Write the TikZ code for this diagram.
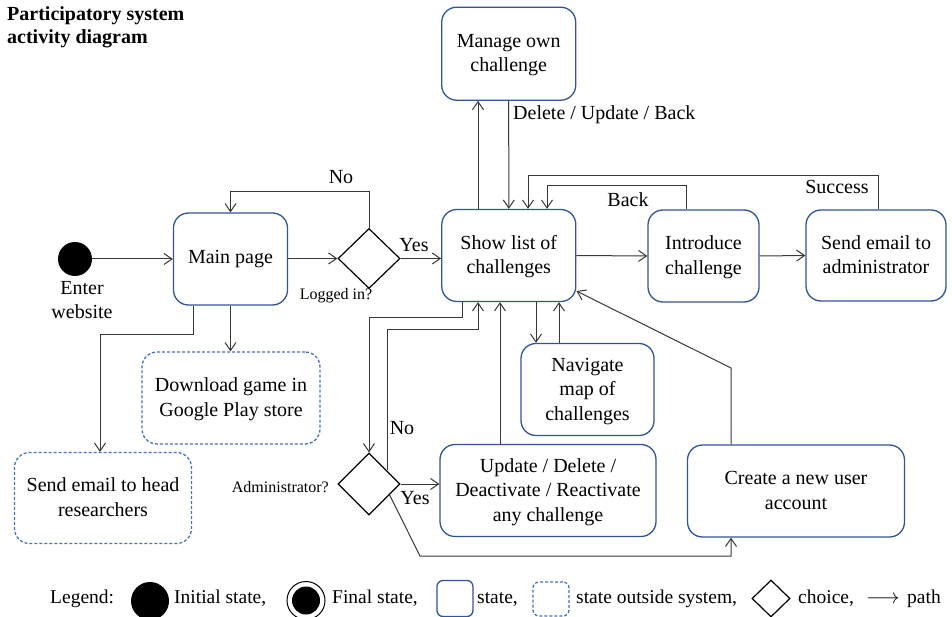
\documentclass[tikz,border=0pt]{standalone}
\usepackage{fontspec}
\setmainfont{Liberation Serif}
\usetikzlibrary{shapes.geometric,arrows.meta}
\definecolor{boxblue}{RGB}{47,85,151}
\definecolor{dashblue}{RGB}{68,114,196}
\definecolor{linegray}{RGB}{55,55,55}
\newcommand\mytopstrut{\rule{0pt}{18pt}}
\newcommand\mybotstrut{\rule[-6pt]{0pt}{6pt}}
\begin{document}
\begin{tikzpicture}[x=1pt,y=-1pt,
  every node/.style={inner sep=0pt},
  statebox/.style={draw=boxblue, line width=1.3pt, rounded corners=15pt, align=center, font=\fontsize{20}{24.5}\selectfont},
  outbox/.style={statebox, draw=dashblue, dash pattern=on 3pt off 2pt},
  choice/.style={diamond, draw=black, line width=1.2pt, aspect=1},
  lbl/.style={font=\fontsize{20}{24}\selectfont},
  leglbl/.style={font=\fontsize{19.5}{24}\selectfont, anchor=base west},
  small/.style={font=\fontsize{16}{19}\selectfont},
  arr/.style={draw=linegray, line width=1pt, -{Straight Barb[length=8pt,width=11pt]}},
  ln/.style={draw=linegray, line width=1pt}
]
\useasboundingbox (0,0) rectangle (952,617);

% title
\node[anchor=base west, font=\bfseries\fontsize{20}{23}\selectfont] (t1) at (7,21) {Participatory system};
\node[anchor=base west, font=\bfseries\fontsize{20}{23}\selectfont] (t2) at (7,44) {activity diagram};

% states
\node[statebox, minimum width=114pt, minimum height=92pt] (main) at (230.5,259) {Main page};
\node[statebox, minimum width=134pt, minimum height=93pt] (manage) at (508.7,53.7) {\mytopstrut Manage own\\challenge\mybotstrut};
\node[statebox, minimum width=134pt, minimum height=92pt] (show) at (508.8,255.5) {\mytopstrut Show list of\\challenges\mybotstrut};
\node[statebox, minimum width=111pt, minimum height=92pt] (intro) at (703.5,256) {\mytopstrut Introduce\\challenge\mybotstrut};
\node[statebox, minimum width=140pt, minimum height=91pt] (sendadm) at (876,255.5) {\mytopstrut Send email to\\administrator\mybotstrut};
\node[statebox, minimum width=133pt, minimum height=92pt] (nav) at (587.5,389.5) {\mytopstrut Navigate\\map of\\challenges\mybotstrut};
\node[statebox, minimum width=216pt, minimum height=92pt] (upd) at (548,490.5) {\mytopstrut Update / Delete /\\Deactivate / Reactivate\\any challenge\mybotstrut};
\node[statebox, minimum width=217pt, minimum height=92pt] (create) at (796,491) {\mytopstrut Create a new user\\account\mybotstrut};
\node[outbox, minimum width=178pt, minimum height=92pt] (download) at (231,398) {\mytopstrut Download game in\\Google Play store\mybotstrut};
\node[outbox, minimum width=177pt, minimum height=91pt] (sendhead) at (103,498) {\mytopstrut Send email to head\\researchers\mybotstrut};

% choices
\node[choice, minimum width=62pt, minimum height=60pt] (logged) at (369,258.5) {};
\node[choice, minimum width=62pt, minimum height=62pt] (admin) at (369,484) {};
\node[small] (loggedlbl) at (336,296) {Logged in?};
\node[small, anchor=east] (adminlbl) at (329,487) {Administrator?};

% initial
\node[circle, fill=black, minimum size=34pt] (init) at (75,259) {};
\node[lbl, align=center] (enter) at (82,300) {Enter\\website};

% connectors
\draw[arr] (init) -- (main);
\draw[arr] (logged.west -| main.east) -- (logged.west);
\draw[arr] (logged.north) -- (369,192) -| (main.north);
\node[lbl] (no1) at (341,177) {No};
\draw[arr] (logged.east) -- (logged.east -| show.west);
\node[lbl] (yes1) at (414,245) {Yes};

\draw[arr] (478,0 |- show.north) -- (478,0 |- manage.south);
\draw[arr] (manage.south) -- (show.north);
\node[lbl, anchor=west] (dub) at (513,115) {Delete / Update / Back};

\draw[arr] (686,0 |- intro.north) -- (686,186) -- (547,186) -- (547,0 |- show.north);
\node[lbl] (back) at (628,200) {Back};
\draw[arr] (878,0 |- sendadm.north) -- (878,176) -- (528,176) -- (528,0 |- show.north);
\node[lbl] (succ) at (837,187) {Success};
\draw[arr] (show.east) -- (intro.west);
\draw[arr] (intro.east) -- (sendadm.west);

\draw[arr] (536,0 |- show.south) -- (536,0 |- nav.north);
\draw[arr] (559,0 |- nav.north) -- (559,0 |- show.south);
\draw[arr] (500,0 |- upd.north) -- (500,0 |- show.south);
\draw[arr] (731,0 |- create.north) -- (731,368) -- (show.east |- 0,291);

\draw[arr] (462,0 |- show.south) -- (462,317) -| (admin.north);
\draw[arr] (admin.37) |- (478,329) -- (478,0 |- show.south);
\node[lbl] (no2) at (402,428) {No};
\draw[arr] (admin.east) -- (admin.east -| upd.west);
\node[lbl] (yes2) at (415,498) {Yes};
\draw[arr] (admin.-28) -- (420,556) -- (731,556) -- (731,0 |- create.south);

\draw[arr] (193,0 |- main.south) -- (193,334) -- (100,334) -- (100,0 |- sendhead.north);
\draw[arr] (main.south) -- (main.south |- download.north);

% legend
\node[leglbl] (leg) at (50,603) {Legend:};
\node[circle, fill=black, minimum size=38pt] (leginit) at (150,601) {};
\node[leglbl] (legi) at (174,603) {Initial state,};
\node[circle, draw=black, line width=1pt, minimum size=38pt] (legfinal) at (306,600.5) {};
\node[circle, fill=black, minimum size=28pt] (legfinalin) at (legfinal) {};
\node[leglbl] (legf) at (332,603) {Final state,};
\node[draw=boxblue, line width=1.3pt, rounded corners=6pt, minimum width=36pt, minimum height=36pt] (legstate) at (455,598.5) {};
\node[leglbl] (legs) at (477,603) {state,};
\node[draw=dashblue, line width=1.3pt, dash pattern=on 3pt off 2pt, rounded corners=6pt, minimum width=36pt, minimum height=34pt] (legout) at (551,599) {};
\node[leglbl] (lego) at (576,603) {state outside system,};
\node[choice, minimum width=38pt, minimum height=37pt] (legchoice) at (771,598.5) {};
\node[leglbl] (legc) at (798,603) {choice,};
\node[leglbl] (legarr) at (866,603) {$\longrightarrow$};
\node[leglbl] (legp) at (907,603) {path};
\end{tikzpicture}
\end{document}
